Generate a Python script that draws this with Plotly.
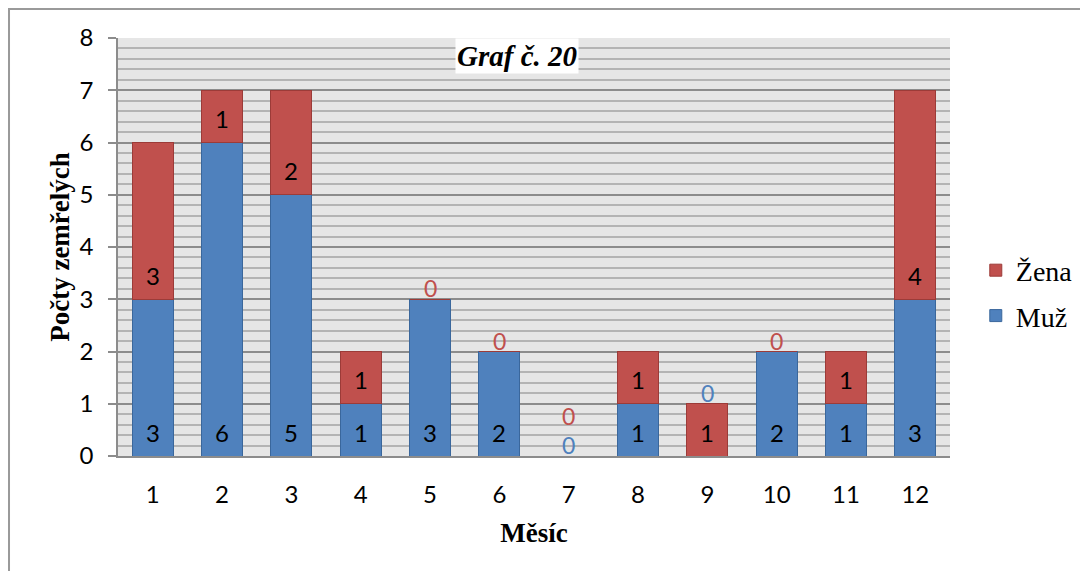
import plotly.graph_objects as go

months = ["1", "2", "3", "4", "5", "6", "7", "8", "9", "10", "11", "12"]
muz = [3, 6, 5, 1, 3, 2, 0, 1, 0, 2, 1, 3]
zena = [3, 1, 2, 1, 0, 0, 0, 1, 1, 0, 1, 4]
y_ticks = [0, 1, 2, 3, 4, 5, 6, 7, 8]

BLUE = "#4f81bd"
RED = "#c0504d"
LABEL_FONT = "Lato"
SERIF = "Liberation Serif"

fig = go.Figure()
fig.add_trace(go.Bar(x=months, y=muz, name="Muž", marker=dict(color=BLUE, line=dict(color="#3a679c", width=1)),
                     legendgroup="m", legendrank=2, hoverinfo="x+y+name"))
fig.add_trace(go.Bar(x=months, y=zena, name="Žena", marker=dict(color=RED, line=dict(color="#9c3b38", width=1)),
                     legendgroup="z", legendrank=1, hoverinfo="x+y+name"))

annotations = []
for i, m in enumerate(months):
    total = muz[i] + zena[i]
    zero_k = 0
    base = 0
    for vals, col in ((muz, BLUE), (zena, RED)):
        v = vals[i]
        if v > 0:
            annotations.append(dict(x=i, y=base, xref="x", yref="y", text=str(v), showarrow=False,
                                    yanchor="middle", yshift=24,
                                    font=dict(family=LABEL_FONT, size=24, color="black")))
        else:
            annotations.append(dict(x=i, y=total, xref="x", yref="y", text="0", showarrow=False,
                                    yanchor="middle", yshift=11 + 29 * zero_k,
                                    font=dict(family=LABEL_FONT, size=23, color=col)))
            zero_k += 1
        base += v

annotations.append(dict(x=0.479, y=1, xref="paper", yref="paper", xanchor="center", yanchor="top",
                        text="<b><i>Graf č. 20</i></b>", showarrow=False, bgcolor="white", borderpad=1,
                        font=dict(family=SERIF, size=29, color="black")))

fig.update_layout(
    width=1080, height=571,
    margin=dict(l=118, r=130, t=38, b=115, autoexpand=False),
    barmode="stack", bargap=0.41,
    paper_bgcolor="white", plot_bgcolor="#e6e6e6",
    annotations=annotations,
    legend=dict(x=1.031, y=0.39, xanchor="left", yanchor="middle", traceorder="grouped",
                tracegroupgap=6, font=dict(family=SERIF, size=28, color="black")),
    shapes=[dict(type="rect", xref="paper", yref="paper", x0=-0.131, x1=2, y0=-2, y1=1.0694,
                 line=dict(color="#9a9a9a", width=2), fillcolor="rgba(0,0,0,0)", layer="below")],
    showlegend=True,
)
fig.update_xaxes(type="category", showline=True, linecolor="#8c8c8c", linewidth=1.5, showgrid=False,
                 ticks="", ticklabelstandoff=16,
                 tickfont=dict(family=LABEL_FONT, size=24, color="black"),
                 title=dict(text="<b>Měsíc</b>", font=dict(family=SERIF, size=27, color="black"), standoff=17))
fig.update_yaxes(range=[0, 8], tickvals=y_ticks, ticks="outside", ticklen=8, tickcolor="#8c8c8c", tickwidth=1.5,
                 showline=True, linecolor="#8c8c8c", linewidth=1.5,
                 showgrid=True, gridcolor="#8c8c8c", gridwidth=1.5,
                 minor=dict(dtick=0.2, showgrid=True, gridcolor="#b4b4b4", gridwidth=1.5, ticks=""),
                 zeroline=False, ticklabelstandoff=10,
                 tickfont=dict(family=LABEL_FONT, size=24, color="black"),
                 title=dict(text="<b>Počty zemřelých</b>", font=dict(family=SERIF, size=27, color="black"), standoff=2))

fig.write_html("out.html")
